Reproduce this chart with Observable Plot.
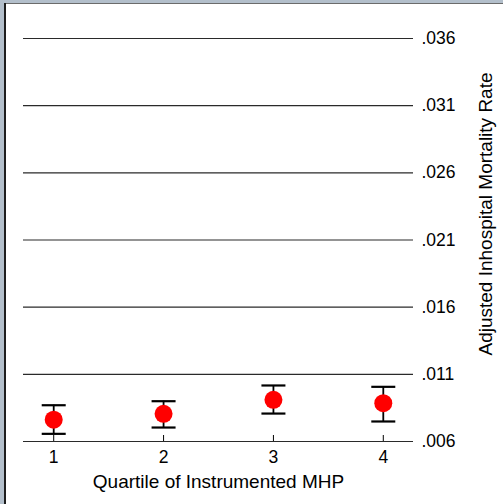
<!DOCTYPE html>
<html><head><meta charset="utf-8">
<script src="https://cdn.jsdelivr.net/npm/d3@7"></script>
<script src="https://cdn.jsdelivr.net/npm/@observablehq/plot@0.6"></script>
<style>
body{margin:0;background:#fff;}
#wrap{position:relative;width:503px;height:504px;overflow:hidden;background:#fff;}
#wrap svg{position:absolute;left:0;top:0;}
.edge{position:absolute;pointer-events:none;}
</style>
</head><body>
<div id="wrap">
  <div id="chart"></div>
  <div class="edge" style="left:0;top:0;width:503px;height:3px;background:#b3bfcb;"></div>
  <div class="edge" style="left:0;top:0;width:4px;height:504px;background:#b3bfcb;"></div>
  <div class="edge" style="left:4px;top:3px;width:499px;height:1px;background:#6b6b6b;"></div>
  <div class="edge" style="left:4px;top:3px;width:2px;height:501px;background:#1e1e1e;"></div>
</div>
<script>
const quartiles = [1, 2, 3, 4];
const estimates = [0.00762, 0.00806, 0.00910, 0.00885];
const lowerCI   = [0.00657, 0.00704, 0.00808, 0.00749];
const upperCI   = [0.00870, 0.00900, 0.01017, 0.01007];
const yTicks = [0.006, 0.011, 0.016, 0.021, 0.026, 0.031, 0.036];
const xTitle = "Quartile of Instrumented MHP";
const yTitle = "Adjusted Inhospital Mortality Rate";

const data = quartiles.map((q, i) => ({q, est: estimates[i], lo: lowerCI[i], hi: upperCI[i]}));

const capSymbol = {
  draw(ctx, size) {
    const w = Math.sqrt(size / Math.PI);
    ctx.moveTo(-w, 0);
    ctx.lineTo(w, 0);
  }
};

const fmt = d => d3.format(".3f")(d).replace(/^0/, "");

const chart = Plot.plot({
  width: 503,
  height: 504,
  marginLeft: 23,
  marginRight: 90,
  marginTop: 38,
  marginBottom: 63,
  style: {fontFamily: "'Liberation Sans', Arial, sans-serif", fontSize: "17px", color: "#000", background: "transparent"},
  x: {domain: [0.725, 4.275]},
  y: {domain: [0.006, 0.036]},
  marks: [
    Plot.ruleY(yTicks, {stroke: "#2a2a2a", strokeWidth: 1.2}),
    Plot.axisY(yTicks, {anchor: "right", tickSize: 0, tickPadding: 8, tickFormat: fmt, fontSize: 17.5, label: null}),
    Plot.axisX(quartiles, {anchor: "bottom", tickSize: -6, text: null, label: null, stroke: "#000"}),
    Plot.axisX(quartiles, {anchor: "bottom", tickSize: 0, tickPadding: 9, fontSize: 17.5, label: null}),
    Plot.ruleX(data, {x: "q", y1: "lo", y2: "hi", stroke: "#000", strokeWidth: 1.8}),
    Plot.dot(data, {x: "q", y: "lo", symbol: capSymbol, r: 12, stroke: "#000", strokeWidth: 2.2, fill: "none"}),
    Plot.dot(data, {x: "q", y: "hi", symbol: capSymbol, r: 12, stroke: "#000", strokeWidth: 2.2, fill: "none"}),
    Plot.dot(data, {x: "q", y: "est", r: 9, fill: "#ff0000", stroke: "none"}),
    Plot.text([xTitle], {frameAnchor: "bottom", dy: 40, fontSize: 19, lineAnchor: "middle", textAnchor: "middle", fill: "#000"}),
    Plot.text([yTitle], {frameAnchor: "right", dx: 72, dy: -26, rotate: -90, fontSize: 19, lineAnchor: "middle", textAnchor: "middle", fill: "#000"})
  ]
});
document.getElementById("chart").appendChild(chart);
</script>
</body></html>
